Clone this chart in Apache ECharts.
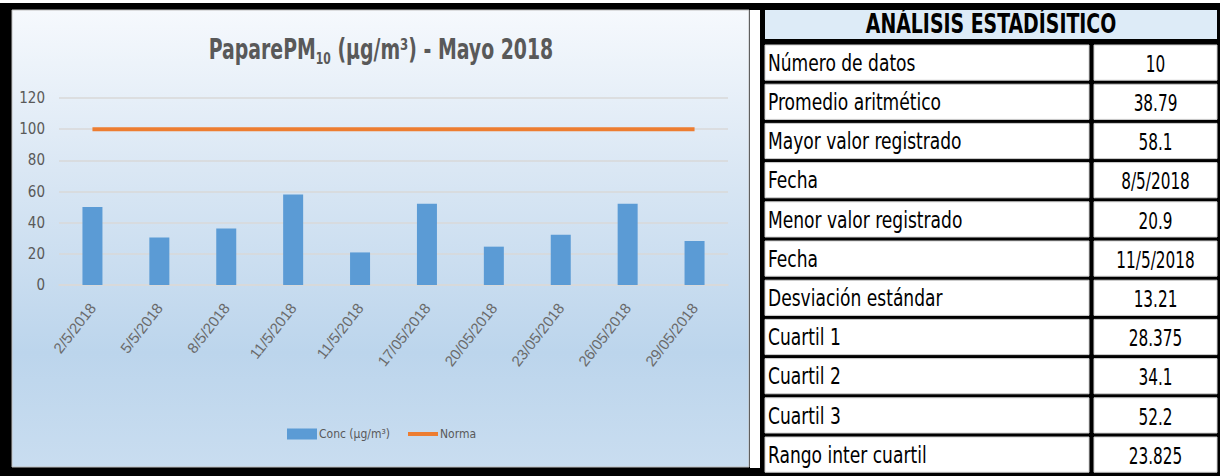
<!DOCTYPE html>
<html>
<head>
<meta charset="utf-8">
<script src="https://cdn.jsdelivr.net/npm/echarts@6/dist/echarts.min.js"></script>
<style>
html,body{margin:0;padding:0;background:#fff;}
#c{width:1220px;height:476px;}
</style>
</head>
<body>
<div id="c"></div>
<script>
// ---- data ----
const categories = ['2/5/2018','5/5/2018','8/5/2018','11/5/2018','11/5/2018','17/05/2018','20/05/2018','23/05/2018','26/05/2018','29/05/2018'];
const concValues = [50.1, 30.5, 36.2, 58.1, 20.9, 52.2, 24.6, 32.2, 52.2, 28.3];
const normaValues = [100, 100, 100, 100, 100, 100, 100, 100, 100, 100];
const yMin = 0, yMax = 120, yInterval = 20;
const seriesNames = ['Conc (µg/m³)', 'Norma'];
const chartTitle = '{a|PaparePM}{s|10}{a| (µg/m³) - Mayo 2018}';
const tableTitle = 'ANÁLISIS ESTADÍSITICO';
const statLabels = ['Número de datos','Promedio aritmético','Mayor valor registrado','Fecha','Menor valor registrado','Fecha','Desviación estándar','Cuartil 1','Cuartil 2','Cuartil 3','Rango inter cuartil'];
const statValues = ['10','38.79','58.1','8/5/2018','20.9','11/5/2018','13.21','28.375','34.1','52.2','23.825'];

// ---- styling / layout ----
const NARROW = "'Liberation Sans Narrow','Arial Narrow','DejaVu Sans Condensed','Liberation Sans',sans-serif";
const GREY = '#595959';
const SPLIT = 1091, ROW0 = 43, ROWH = 39.2;

const graphics = [];
// outer black frame
graphics.push({type:'rect', z:-30, silent:true, shape:{x:0,y:3,width:1220,height:473}, style:{fill:'#000'}});
// white gap between panel and table
graphics.push({type:'rect', z:-29, silent:true, shape:{x:750,y:10,width:10,height:458}, style:{fill:'#fff'}});
// chart panel with gradient
graphics.push({type:'rect', z:-28, silent:true, shape:{x:12,y:10,width:737,height:457},
  style:{stroke:'#bfbfbf', lineWidth:1,
    fill:new echarts.graphic.LinearGradient(0,0,0,1,[
      {offset:0,color:'#f6f9fd'},{offset:0.35,color:'#dae7f4'},{offset:0.75,color:'#bcd5ec'},{offset:1,color:'#c9ddf0'}])}});
// chart title
graphics.push({type:'text', z:5, silent:true, x:381, y:49, scaleY:1.35,
  style:{text:chartTitle, x:0, y:0, align:'center', verticalAlign:'middle',
    rich:{
      a:{fontFamily:NARROW, fontWeight:'bold', fontSize:21, fill:GREY, lineHeight:26},
      s:{fontFamily:NARROW, fontWeight:'bold', fontSize:12, fill:GREY, lineHeight:14, verticalAlign:'bottom'}
    }}});
// table header
graphics.push({type:'rect', z:10, silent:true, shape:{x:765,y:10,width:452,height:29}, style:{fill:'#ddebf7'}});
graphics.push({type:'text', z:11, silent:true, x:(765+1217)/2, y:24, scaleY:1.25,
  style:{text:tableTitle, x:0, y:0, align:'center', verticalAlign:'middle', font:"bold 21px " + NARROW, fill:'#000'}});
// table rows
statLabels.forEach(function(lbl, i){
  const y0 = ROW0 + i*ROWH;
  graphics.push({type:'rect', z:10, silent:true, shape:{x:765,y:y0+2,width:SPLIT-2-765,height:ROWH-4}, style:{fill:'#fff', stroke:'#d0d0d0', lineWidth:1}});
  graphics.push({type:'rect', z:10, silent:true, shape:{x:SPLIT+3,y:y0+2,width:1217-SPLIT-3,height:ROWH-4}, style:{fill:'#fff', stroke:'#d0d0d0', lineWidth:1}});
  graphics.push({type:'text', z:11, silent:true, x:768, y:y0+ROWH/2, scaleY:1.25,
    style:{text:lbl, x:0, y:0, align:'left', verticalAlign:'middle', font:"19px " + NARROW, fill:'#000'}});
  graphics.push({type:'text', z:11, silent:true, x:(SPLIT+3+1217)/2, y:y0+ROWH/2+2, scaleY:1.3,
    style:{text:statValues[i], x:0, y:0, align:'center', verticalAlign:'middle', font:"17px " + NARROW, fill:'#000'}});
});

const chart = echarts.init(document.getElementById('c'), null, {renderer:'svg'});
chart.setOption({
  animation:false,
  backgroundColor:'#fff',
  legend:{
    left:282, top:423, itemWidth:30, itemHeight:11, itemGap:18,
    textStyle:{fontFamily:NARROW, fontSize:12, color:GREY, padding:[0,0,0,-3]},
    data:[{name:seriesNames[0], icon:'rect'}, {name:seriesNames[1], icon:'path://M0 0H30V4H0Z'}]
  },
  grid:{left:59, right:492, top:98, bottom:191, containLabel:false},
  xAxis:{
    type:'category', data:categories,
    axisLine:{show:true, lineStyle:{color:'#d9d9d9', width:1.5}},
    axisTick:{show:false},
    axisLabel:{rotate:52, margin:20, fontFamily:"'Liberation Sans',sans-serif", fontSize:15, color:'#6a6a6a', interval:0}
  },
  yAxis:{
    type:'value', min:yMin, max:yMax, interval:yInterval,
    axisLine:{show:false}, axisTick:{show:false},
    axisLabel:{margin:14, fontFamily:NARROW, fontSize:15, color:GREY},
    splitLine:{lineStyle:{color:'#d9d9d9', width:1.5}}
  },
  series:[
    {name:seriesNames[0], type:'bar', data:concValues, barWidth:20, itemStyle:{color:'#5b9bd5'}},
    {name:seriesNames[1], type:'line', data:normaValues, symbol:'none', showSymbol:false, lineStyle:{color:'#ed7d31', width:4}, itemStyle:{color:'#ed7d31'}, z:5}
  ],
  graphic:{elements:graphics}
});
</script>
</body>
</html>
